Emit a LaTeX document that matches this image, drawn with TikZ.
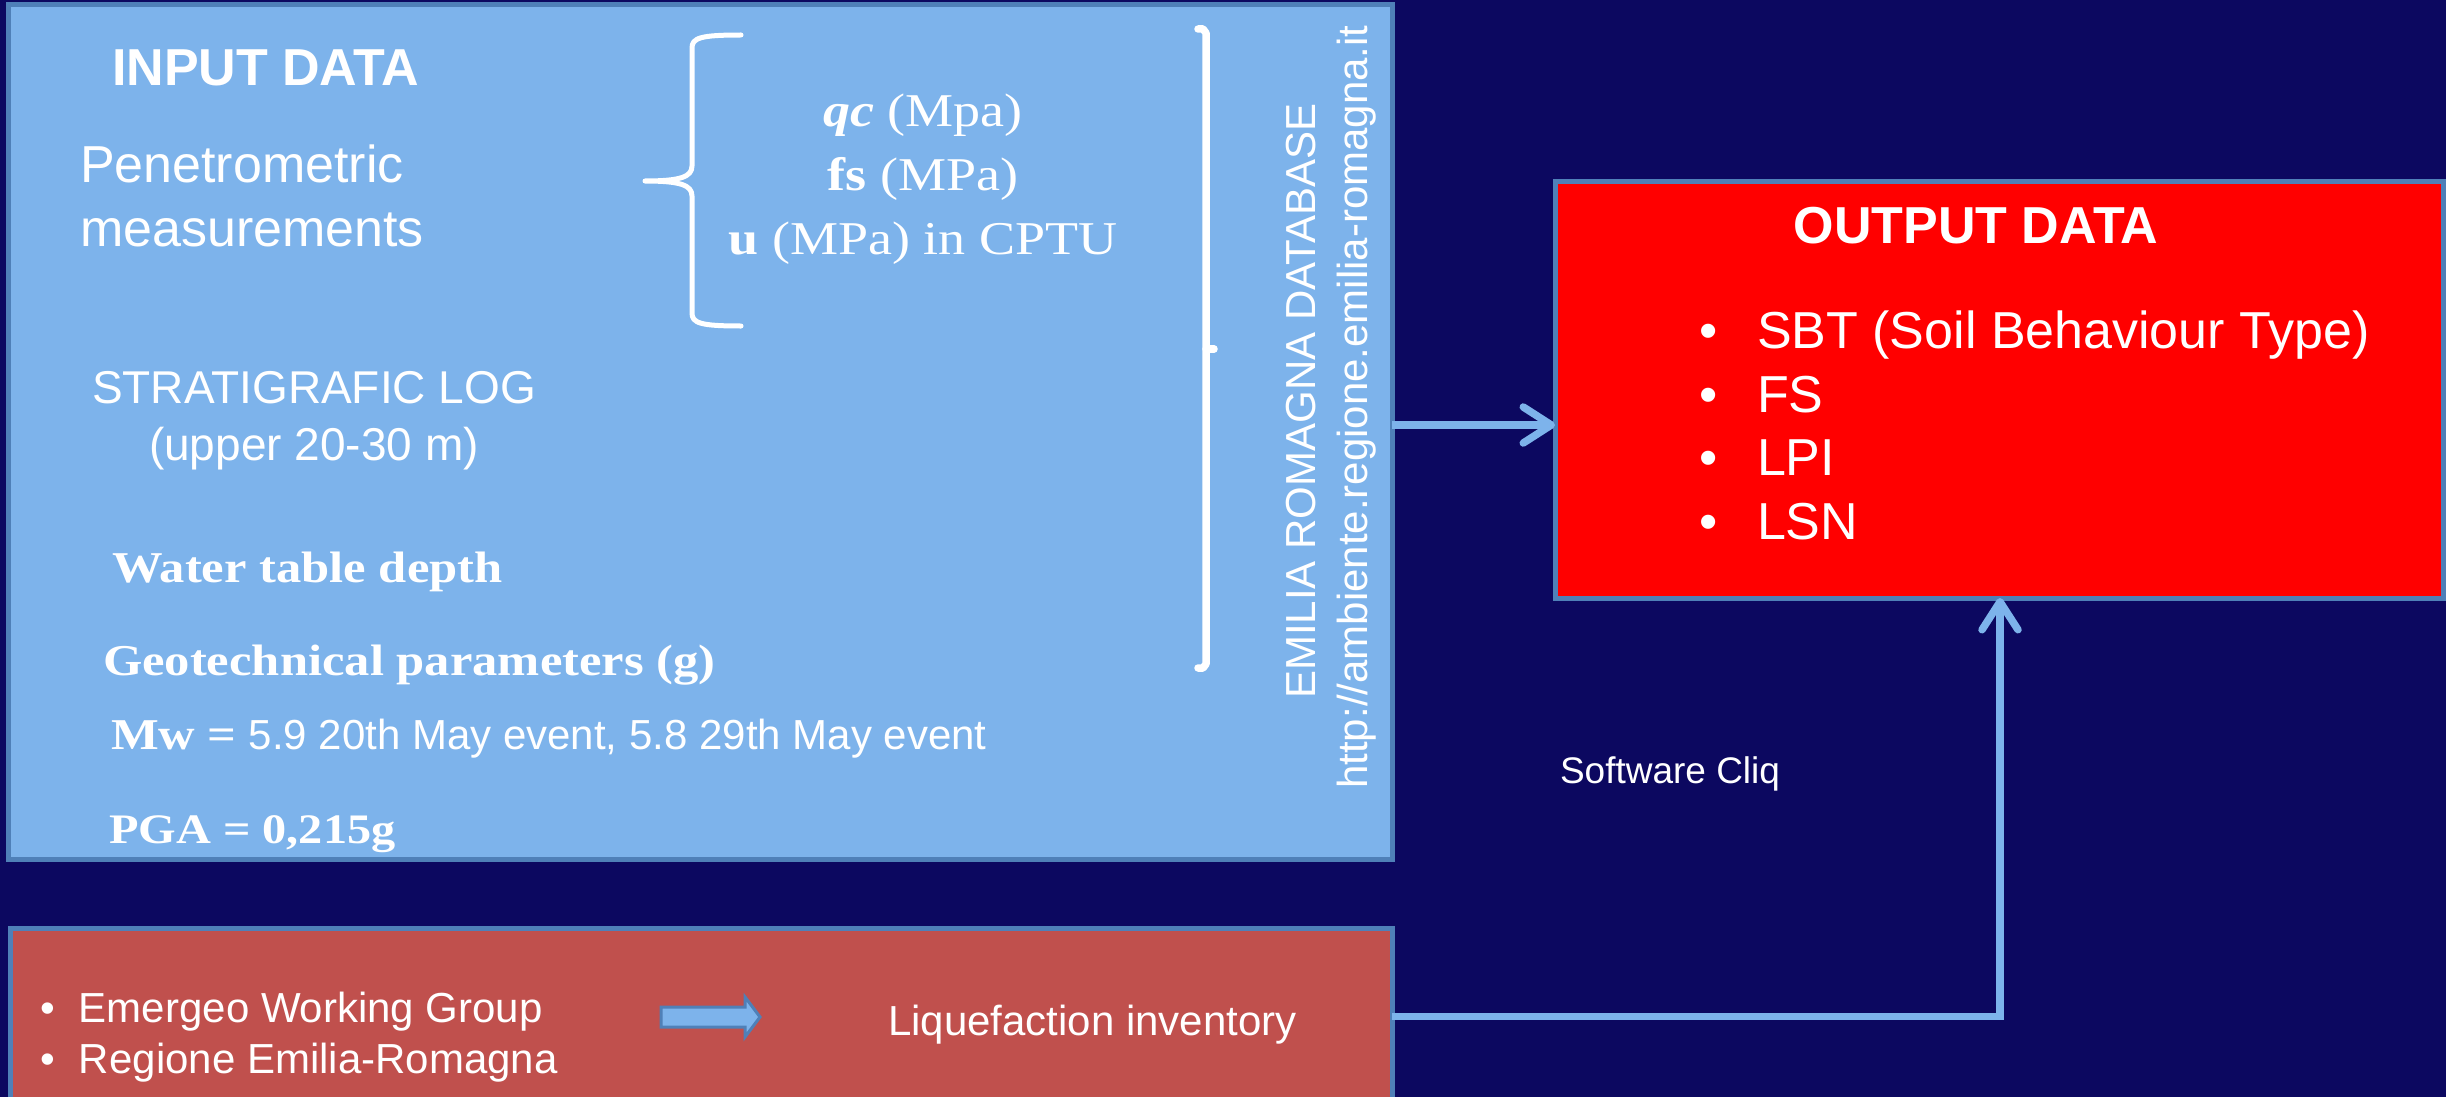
\documentclass[tikz,border=0pt]{standalone}
\usepackage{fontspec}
\setmainfont{Liberation Sans}
\newfontfamily\camb{Liberation Serif}[FakeStretch=1.15]
\usetikzlibrary{arrows.meta}
\definecolor{navy}{HTML}{0C0860}
\definecolor{lblue}{HTML}{7DB3EB}
\definecolor{steel}{HTML}{4F80B8}
\definecolor{brick}{HTML}{C0504D}
\newcommand\fsz[1]{\fontsize{#1}{#1}\selectfont}
\tikzset{
  box/.style={draw=steel, line width=5pt, inner sep=0pt, outer sep=0pt},
  txt/.style={text=white, inner sep=0pt, outer sep=0pt},
  conn/.style={draw=lblue, line width=7.5pt, -{Straight Barb[length=28pt,width=36pt,round]}},
  bracestyle/.style={draw=white, line width=5pt, line cap=round, line join=round},
  rbracestyle/.style={draw=white, line width=7.5pt, line cap=round, line join=round},
}
\begin{document}
\begin{tikzpicture}[x=1pt,y=-1pt]
\useasboundingbox (0,0) rectangle (2446,1097);
\fill[navy] (0,0) rectangle (2446,1097);

% boxes
\node[box, fill=lblue, minimum width=1384pt, minimum height=854pt] (input) at (700,432) {};
\node[box, fill=red, minimum width=888pt, minimum height=417pt] (output) at (1999,389.5) {};
\node[box, fill=brick, minimum width=1382pt, minimum height=177pt] (inv) at (701,1016.5) {};

% input texts
\node[txt, anchor=base west] (t1) at (112,86) {\fsz{52}\bfseries INPUT DATA};
\node[txt, anchor=base west] (t2) at (80,182) {\fsz{52}Penetrometric};
\node[txt, anchor=base west] (t3) at (80,246) {\fsz{52}measurements};
\node[txt, anchor=base] (q1) at (923,127) {\camb\fsz{47}\textbf{\textit{qc}} (Mpa)};
\node[txt, anchor=base] (q2) at (923,190) {\camb\fsz{47}\textbf{fs} (MPa)};
\node[txt, anchor=base] (q3) at (923,254) {\camb\fsz{47}\textbf{u} (MPa) in CPTU};
\node[txt, anchor=base] (s1) at (314,403) {\fsz{46}STRATIGRAFIC LOG};
\node[txt, anchor=base] (s2) at (314,460) {\fsz{46}(upper 20-30 m)};
\node[txt, anchor=base west] (w1) at (112,582) {\camb\bfseries\fsz{44}Water table depth};
\node[txt, anchor=base west] (g1) at (103,675) {\camb\bfseries\fsz{44}Geotechnical parameters (g)};
\node[txt, anchor=base west] (m1) at (111,749) {{\camb\bfseries\fsz{44}Mw =}\hspace{12pt}\fsz{42}5.9 20th May event, 5.8 29th May event};
\node[txt, anchor=base west] (p1) at (109,843) {\camb\bfseries\fsz{42}PGA = 0,215g};
\node[txt, anchor=base, rotate=90] (db1) at (1315,401) {\fsz{42}EMILIA ROMAGNA DATABASE};
\node[txt, anchor=base, rotate=90] (db2) at (1367,407) {\fsz{42}http://ambiente.regione.emilia-romagna.it};

% braces
\draw[bracestyle] (741,35) .. controls (700,35) and (692,38) .. (692,48) -- (692,166)
  .. controls (692,177) and (680,181) .. (645,181)
  .. controls (680,181) and (692,185) .. (692,196) -- (692,313)
  .. controls (692,323) and (700,326) .. (741,326);
\draw[rbracestyle] (1198,29) -- (1203,29) -- (1206,33) -- (1206,664) -- (1203,668) -- (1198,668);
\draw[rbracestyle] (1206,349) -- (1214,349);

% output texts
\node[txt, anchor=base] (o1) at (1976,243) {\fsz{52}\bfseries OUTPUT DATA};
\node[txt, anchor=base west] (o2) at (1699,348) {\fsz{52}\makebox[58pt][l]{•}SBT (Soil Behaviour Type)};
\node[txt, anchor=base west] (o3) at (1699,412) {\fsz{52}\makebox[58pt][l]{•}FS};
\node[txt, anchor=base west] (o4) at (1699,475) {\fsz{52}\makebox[58pt][l]{•}LPI};
\node[txt, anchor=base west] (o5) at (1699,539) {\fsz{52}\makebox[58pt][l]{•}LSN};

% inventory texts
\node[txt, anchor=base west] (e1) at (40,1022) {\fsz{42}\makebox[39pt][l]{•}Emergeo Working Group};
\node[txt, anchor=base west] (e2) at (40,1073) {\fsz{42}\makebox[39pt][l]{•}Regione Emilia-Romagna};
\node[txt, anchor=base west] (l1) at (888,1035) {\fsz{42}Liquefaction inventory};
\draw[fill=lblue, draw=steel, line width=3pt, line join=miter]
  (661,1007) -- (745,1007) -- (745,997) -- (760,1017) -- (745,1037) -- (745,1027) -- (661,1027) -- cycle;

\node[txt, anchor=base west] (sc) at (1560,783) {\fsz{37}Software Cliq};

% connectors
\coordinate (y1) at (0,425);
\coordinate (x2) at (2000,0);
\draw[conn] (input.east |- y1) -- (output.west |- y1);
\draw[conn] (inv.east) -| (output.south -| x2);
\end{tikzpicture}
\end{document}
